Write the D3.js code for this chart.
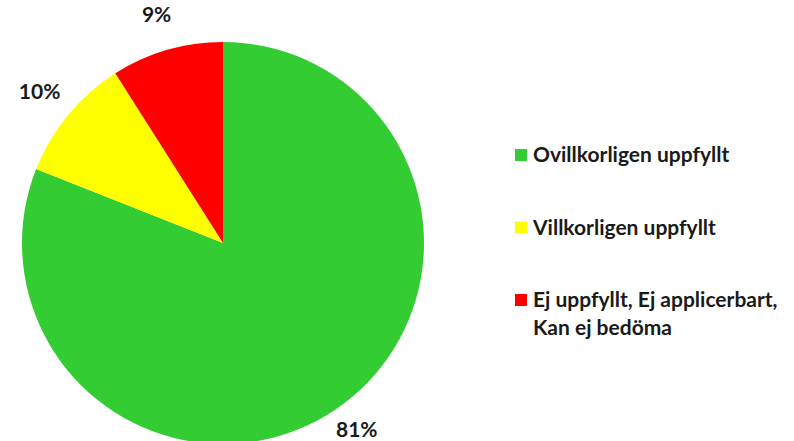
<!DOCTYPE html>
<html>
<head>
<meta charset="utf-8">
<script src="https://cdn.jsdelivr.net/npm/d3@7"></script>
<style>
  body { margin: 0; background: #fff; }
  text { font-family: Lato, "Open Sans", sans-serif; font-weight: bold; fill: #1a1a1a; }
</style>
</head>
<body>
<div id="contenedor"></div>
<script>
// datos del grafico
var categorias = ["Ovillkorligen uppfyllt", "Villkorligen uppfyllt", "Ej uppfyllt, Ej applicerbart, Kan ej bedöma"]
var valores = [81, 10, 9]
var etiquetas = ["81%", "10%", "9%"]
var leyenda = [["Ovillkorligen uppfyllt"], ["Villkorligen uppfyllt"], ["Ej uppfyllt, Ej applicerbart,", "Kan ej bedöma"]]
var colores = ["#33cc33", "#ffff00", "#ff0000"]

var ancho = 794
var alto = 441

var svg = d3.select("#contenedor")
    .append("svg")
    .attr("width", ancho)
    .attr("height", alto)

var cx = 223, cy = 243, radio = 201

var pie = d3.pie().sort(null).value(function(d) { return d })
var arcos = pie(valores)

var arco = d3.arc().innerRadius(0).outerRadius(radio)
var arcoEtiqueta = d3.arc().innerRadius(238).outerRadius(238)

var g = svg.append("g").attr("transform", "translate(" + cx + "," + cy + ")")

g.selectAll("path")
    .data(arcos)
    .enter()
    .append("path")
    .attr("d", arco)
    .attr("fill", function(d, i) { return colores[i] })

// etiquetas de porcentaje (la de abajo no puede salirse del borde)
g.selectAll("text")
    .data(arcos)
    .enter()
    .append("text")
    .attr("transform", function(d) {
        var c = arcoEtiqueta.centroid(d)
        return "translate(" + c[0] + "," + Math.min(c[1], alto - cy - 11) + ")"
    })
    .attr("text-anchor", "middle")
    .attr("dy", "0.35em")
    .style("font-size", "21px")
    .text(function(d, i) { return etiquetas[i] })

// leyenda
var escalaY = d3.scalePoint()
    .domain(categorias)
    .range([155, 300])

var items = svg.selectAll("g.leyenda")
    .data(categorias)
    .enter()
    .append("g")
    .attr("class", "leyenda")
    .attr("transform", function(d) { return "translate(515," + escalaY(d) + ")" })

items.append("rect")
    .attr("x", 0)
    .attr("y", -6)
    .attr("width", 12)
    .attr("height", 12)
    .attr("fill", function(d, i) { return colores[i] })

items.append("text")
    .attr("y", 7)
    .style("font-size", "21px")
    .selectAll("tspan")
    .data(function(d, i) { return leyenda[i] })
    .enter()
    .append("tspan")
    .attr("x", 18)
    .attr("dy", function(d, j) { return j == 0 ? 0 : 28 })
    .text(function(d) { return d })
</script>
</body>
</html>
